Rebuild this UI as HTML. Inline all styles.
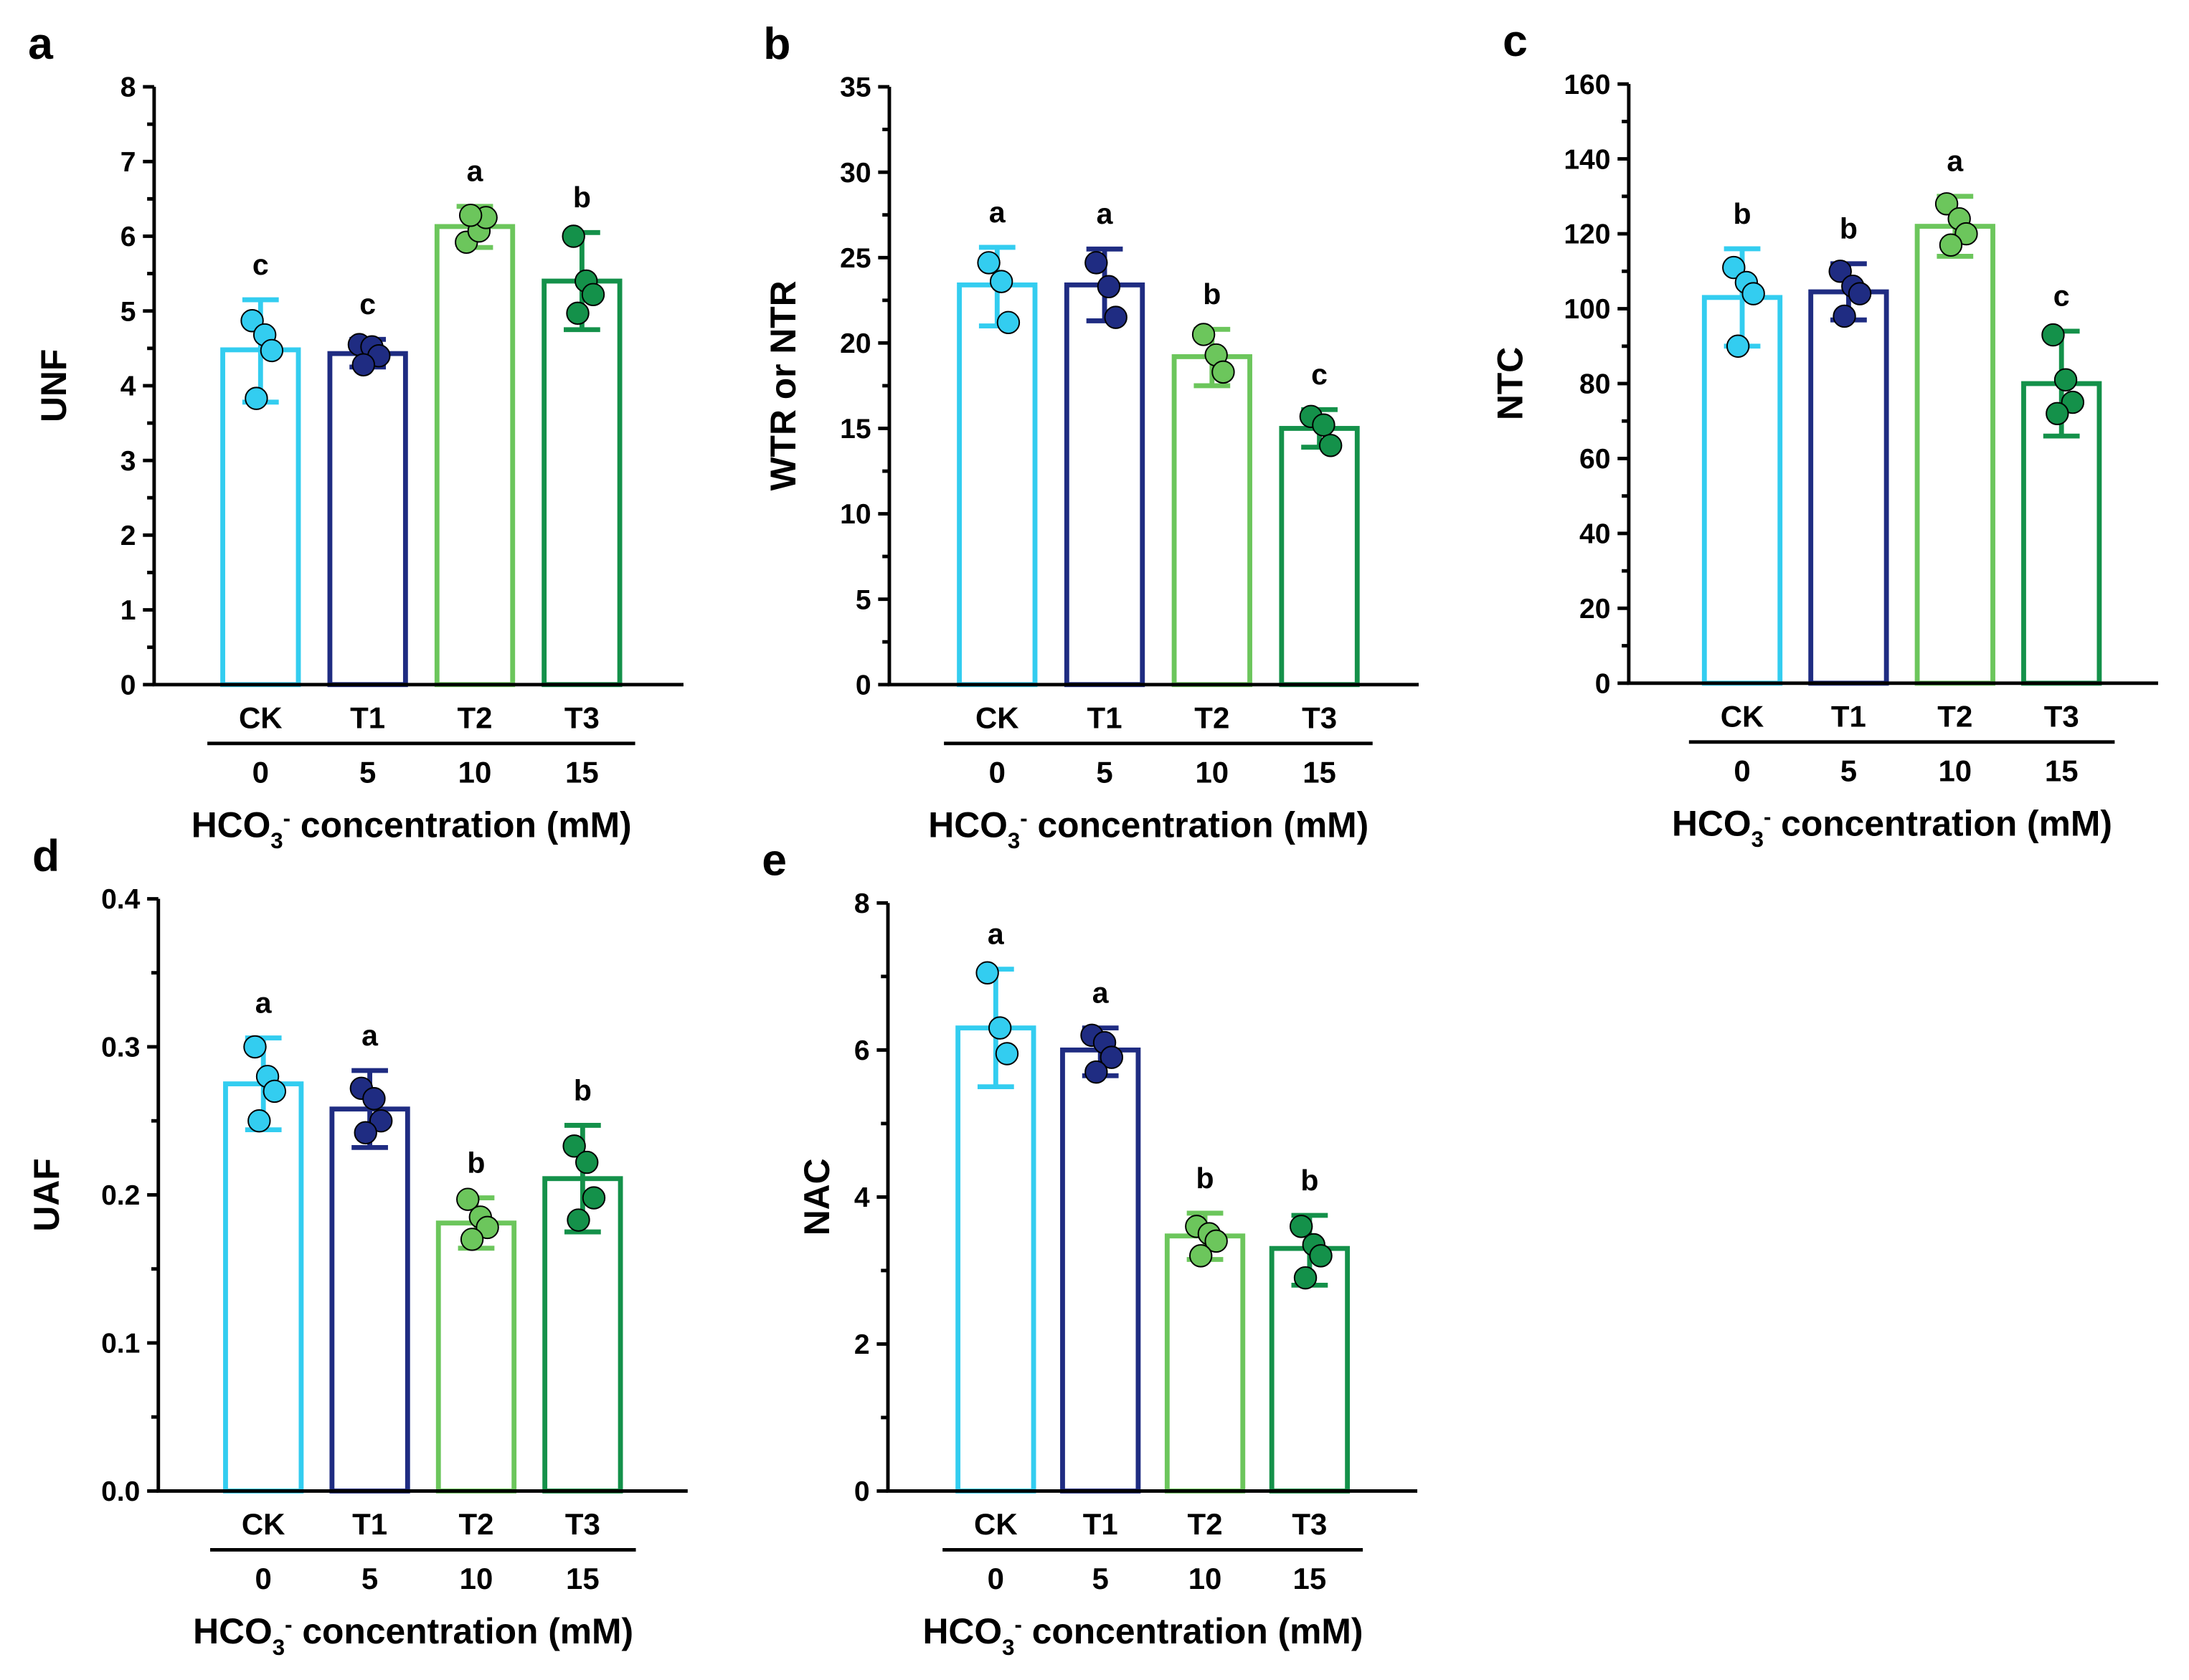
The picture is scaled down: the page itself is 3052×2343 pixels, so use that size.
<!DOCTYPE html>
<html><head><meta charset="utf-8"><style>
html,body{margin:0;padding:0;background:#fff}
svg{display:block}
text{font-family:"Liberation Sans",Arial,sans-serif;font-weight:bold;fill:#000}
</style></head><body>
<svg id="fig" width="3052" height="2343" viewBox="0 0 1563 1200" xmlns="http://www.w3.org/2000/svg"></svg>
<script>
const categories=["CK","T1","T2","T3"];
const concentrations=["0","5","10","15"];
// panel a UNF
const unfMeans=[4.48,4.43,6.13,5.40];
const unfLow=[3.78,4.25,5.85,4.75];
const unfHigh=[5.15,4.62,6.40,6.05];
const unfPoints=[[4.87,4.68,4.47,3.83],[4.55,4.52,4.40,4.28],[5.92,6.07,6.25,6.28],[6.0,5.40,5.22,4.97]];
const unfLetters=["c","c","a","b"];
const unfTicks=[0,1,2,3,4,5,6,7,8];
// panel b WTR
const wtrMeans=[23.4,23.4,19.2,15.0];
const wtrLow=[21.0,21.3,17.5,13.9];
const wtrHigh=[25.6,25.5,20.8,16.1];
const wtrPoints=[[24.7,23.6,21.2],[24.7,23.3,21.5],[20.5,19.3,18.3],[15.7,15.2,14.0]];
const wtrLetters=["a","a","b","c"];
const wtrTicks=[0,5,10,15,20,25,30,35];
// panel c NTC
const ntcMeans=[103,104.5,122,80];
const ntcLow=[90,97,114,66];
const ntcHigh=[116,112,130,94];
const ntcPoints=[[111,107,104,90],[110,106,104,98],[128,124,120,117],[93,81,75,72]];
const ntcLetters=["b","b","a","c"];
const ntcTicks=[0,20,40,60,80,100,120,140,160];
// panel d UAF
const uafMeans=[0.275,0.258,0.181,0.211];
const uafLow=[0.244,0.232,0.164,0.175];
const uafHigh=[0.306,0.284,0.198,0.247];
const uafPoints=[[0.300,0.280,0.270,0.250],[0.272,0.265,0.250,0.242],[0.197,0.185,0.178,0.170],[0.233,0.222,0.198,0.183]];
const uafLetters=["a","a","b","b"];
const uafTicks=["0.0","0.1","0.2","0.3","0.4"];
// panel e NAC
const nacMeans=[6.3,6.0,3.47,3.3];
const nacLow=[5.5,5.65,3.15,2.8];
const nacHigh=[7.1,6.3,3.78,3.75];
const nacPoints=[[7.05,6.3,5.95],[6.2,6.1,5.9,5.7],[3.6,3.5,3.4,3.2],[3.6,3.35,3.2,2.9]];
const nacLetters=["a","a","b","b"];
const nacTicks=[0,2,4,6,8];

const colors=["#33cdf0","#1f2c82","#6cc65c","#14914a"];
const jitter=[-6,3,8,-3,0];
const NS="http://www.w3.org/2000/svg";
const svg=document.getElementById("fig");
function mk(tag,attrs,parent){const e=document.createElementNS(NS,tag);for(const k in attrs)e.setAttribute(k,attrs[k]);(parent||svg).appendChild(e);return e;}

function panel(cfg){
  const g=mk("g",{});
  
  
  const ticks=cfg.ticks.map(Number);
  const ymax=ticks[ticks.length-1];
  const y=v=>cfg.y0-(v/ymax)*(cfg.y0-cfg.ytop);
  const x=i=>cfg.x0+i*cfg.step;
  const L=mk("text",{x:cfg.ax-90,y:cfg.ytop-20,"font-size":32},g);L.textContent=cfg.letter;
  
  
  categories.forEach((c,i)=>{
    const cx=x(i),hw=27;
    const b=mk("rect",{x:cx-hw,y:y(cfg.means[i]),width:hw*2,height:cfg.y0-y(cfg.means[i]),fill:"none",stroke:colors[i],"stroke-width":3.5},g);
    
    
    const e=mk("path",{d:`M${cx},${y(cfg.low[i])}V${y(cfg.high[i])}M${cx-13},${y(cfg.high[i])}h26M${cx-13},${y(cfg.low[i])}h26`,stroke:colors[i],"stroke-width":3.5,fill:"none"},g);
    
    
    cfg.points[i].forEach((p,j)=>{
      const pt=mk("circle",{cx:cx+jitter[j],cy:y(p),r:7.8,fill:colors[i],stroke:"#000","stroke-width":1},g);
      
      
    });
    const t=mk("text",{x:cx,y:y(cfg.high[i])-18,"font-size":21,"text-anchor":"middle"},g);t.textContent=cfg.letters[i];
    
    
    const ct=mk("text",{x:cx,y:cfg.y0+31,"font-size":21.5,"text-anchor":"middle"},g);ct.textContent=c;
    
    
    const nt=mk("text",{x:cx,y:cfg.y0+70,"font-size":21.5,"text-anchor":"middle"},g);nt.textContent=concentrations[i];
    
    
  });
  const ax=mk("path",{d:`M${cfg.ax},${cfg.ytop}V${cfg.y0}H${cfg.ax+378}`,stroke:"#000","stroke-width":2.5,fill:"none"},g);
  
  
  let d="";
  ticks.forEach((v,k)=>{
    d+=`M${cfg.ax-8},${y(v)}h8`;
    if(k<ticks.length-1){const m=(v+ticks[k+1])/2;d+=`M${cfg.ax-5},${y(m)}h5`;}
    const tl=mk("text",{x:cfg.ax-13,y:y(v)+7,"font-size":20,"text-anchor":"end"},g);tl.textContent=cfg.ticks[k];
    
    
  });
  mk("path",{d:d,stroke:"#000","stroke-width":2.5},g);
  const ul=mk("line",{x1:x(0)-38,x2:x(3)+38,y1:cfg.y0+42,y2:cfg.y0+42,stroke:"#000","stroke-width":2.5},g);
  
  
  const xt=mk("text",{x:(x(0)+x(3))/2-7,y:cfg.y0+109,"font-size":25.5,"text-anchor":"middle"},g);
  xt.innerHTML='HCO<tspan font-size="16" dy="8">3</tspan><tspan font-size="16" dy="-16">-</tspan><tspan dy="8"> concentration (mM)</tspan>';
  
  
  const yt=mk("text",{x:0,y:0,"font-size":25.5,"text-anchor":"middle",transform:`translate(${cfg.ytx},${(cfg.ytop+cfg.y0)/2}) rotate(-90)`},g);
  yt.textContent=cfg.ytitle;
  
  
}
panel({name:"unf",letter:"a",ax:110,y0:489,ytop:62,x0:186,step:76.5,means:unfMeans,low:unfLow,high:unfHigh,points:unfPoints,letters:unfLetters,ticks:unfTicks,ytitle:"UNF",ytx:47});
panel({name:"wtr",letter:"b",ax:635,y0:489,ytop:62,x0:712,step:76.7,means:wtrMeans,low:wtrLow,high:wtrHigh,points:wtrPoints,letters:wtrLetters,ticks:wtrTicks,ytitle:"WTR or NTR",ytx:568});
panel({name:"ntc",letter:"c",ax:1163,y0:488,ytop:60,x0:1244,step:76,means:ntcMeans,low:ntcLow,high:ntcHigh,points:ntcPoints,letters:ntcLetters,ticks:ntcTicks,ytitle:"NTC",ytx:1087});
panel({name:"uaf",letter:"d",ax:113,y0:1065,ytop:642,x0:188,step:76,means:uafMeans,low:uafLow,high:uafHigh,points:uafPoints,letters:uafLetters,ticks:uafTicks,ytitle:"UAF",ytx:42});
panel({name:"nac",letter:"e",ax:634,y0:1065,ytop:645,x0:711,step:74.7,means:nacMeans,low:nacLow,high:nacHigh,points:nacPoints,letters:nacLetters,ticks:nacTicks,ytitle:"NAC",ytx:592});
</script>
</body></html>
